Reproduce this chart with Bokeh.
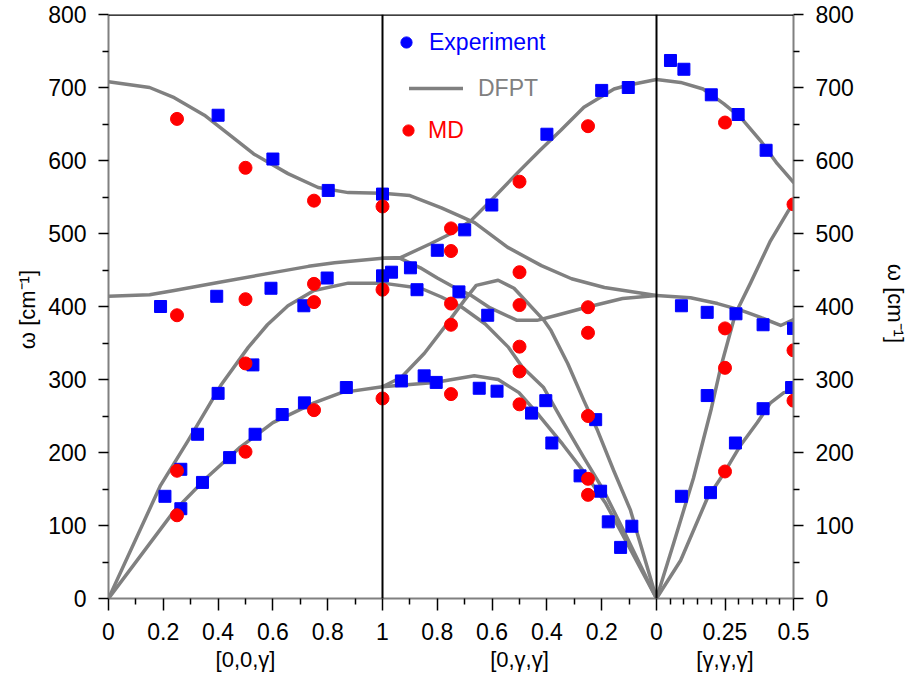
from bokeh.plotting import figure
from bokeh.models import Range1d, LinearAxis, FixedTicker, Span, Legend, LegendItem
from bokeh.embed import file_html
from bokeh.resources import INLINE

# ---------------- data ----------------
# Segment 1: [0,0,γ]  (Γ -> X), γ increasing 0 -> 1
d1_lo_g = [0, 0.15, 0.24, 0.35, 0.435, 0.53, 0.655, 0.765, 0.875, 1.0]
d1_lo_w = [708, 700, 686, 662, 637, 609, 582, 563, 556, 555]
d1_to_g = [0, 0.15, 0.24, 0.4, 0.58, 0.73, 0.825, 1.0]
d1_to_w = [414, 416, 422, 433, 445, 455, 460, 466]
d1_la_g = [0, 0.19, 0.29, 0.41, 0.51, 0.58, 0.655, 0.75, 0.875, 1.0]
d1_la_w = [0, 155, 216, 292, 344, 375, 401, 422, 432, 432]
d1_ta_g = [0, 0.24, 0.36, 0.48, 0.6, 0.75, 0.85, 1.0]
d1_ta_w = [0, 120, 166, 207, 241, 268, 282, 290]

# Segment 2: [0,γ,γ]  (X -> Γ), γ decreasing 1 -> 0
d2_a_g = [1.0, 0.9, 0.785, 0.713, 0.664, 0.543, 0.42, 0.31, 0.19, 0.0]
d2_a_w = [555, 552, 535, 523, 515, 481, 456, 438, 426, 415]
d2_lo_g = [1.0, 0.934, 0.825, 0.75, 0.676, 0.605, 0.51, 0.425, 0.35, 0.265, 0.155, 0.105, 0.0]
d2_lo_w = [466, 467, 486, 500, 518, 545, 582, 614, 641, 673, 698, 703, 711]
d2_dip_g = [1.0, 0.935, 0.862, 0.80, 0.727, 0.68, 0.607, 0.509, 0.436, 0.364, 0.255, 0.124, 0.0]
d2_dip_w = [466, 466, 453, 439, 424, 416, 398, 381, 381, 388, 399, 411, 415]
d2_la_g = [1.0, 0.86, 0.785, 0.71, 0.625, 0.54, 0.49, 0.412, 0.338, 0.265, 0.193, 0.12, 0.0]
d2_la_w = [432, 425, 413, 399, 376, 344, 317, 289, 240, 193, 148, 93, 0]
d2_hump_g = [1.0, 0.931, 0.847, 0.775, 0.702, 0.658, 0.578, 0.52, 0.411, 0.385, 0.324, 0.265, 0.215, 0.156, 0.095, 0.0]
d2_hump_w = [290, 303, 336, 371, 408, 429, 436, 425, 381, 367, 322, 271, 230, 175, 121, 0]
d2_ta_g = [1.0, 0.81, 0.665, 0.578, 0.502, 0.429, 0.342, 0.258, 0.185, 0.113, 0.0]
d2_ta_w = [290, 296, 305, 300, 282, 251, 211, 170, 130, 80, 0]

# Segment 3: [γ,γ,γ]  (Γ -> L), γ increasing 0 -> 0.5
d3_lo_g = [0, 0.088, 0.17, 0.245, 0.307, 0.38, 0.44, 0.5]
d3_lo_w = [711, 707, 698, 678, 659, 627, 596, 570]
d3_to_g = [0, 0.124, 0.223, 0.307, 0.38, 0.453, 0.5]
d3_to_w = [415, 412, 404, 395, 385, 374, 382]
d3_la_g = [0, 0.062, 0.135, 0.2, 0.234, 0.288, 0.343, 0.416, 0.5]
d3_la_w = [0, 75, 165, 260, 316, 390, 432, 490, 543]
d3_ta_g = [0, 0.088, 0.185, 0.245, 0.307, 0.368, 0.416, 0.465, 0.5]
d3_ta_w = [0, 52, 137, 171, 210, 241, 268, 282, 285]

# Experiment (squares)
exp1_g = [0.4, 0.6, 0.802, 1.0, 0.19, 0.395, 0.593, 0.713, 0.798, 1.0,
          0.527, 0.4, 0.325, 0.264, 0.206, 0.264, 0.343, 0.442, 0.535, 0.634, 0.715, 0.868]
exp1_w = [662, 602, 559, 554, 400, 414, 425, 401, 439, 442,
          320, 281, 225, 177, 140, 123, 159, 193, 225, 252, 268, 289]
exp2_g = [0.967, 0.898, 0.874, 0.80, 0.721, 0.70, 0.601, 0.40, 0.20, 0.103, 0.616,
          0.931, 0.848, 0.804, 0.647, 0.582, 0.404, 0.456, 0.382, 0.222, 0.279, 0.204, 0.176, 0.09, 0.131]
exp2_w = [447, 453, 423, 477, 420, 505, 539, 636, 696, 700, 388,
          298, 305, 296, 288, 284, 271, 254, 213, 245, 168, 147, 105, 99, 70]
exp3_g = [0.051, 0.10, 0.20, 0.298, 0.40, 0.091, 0.185, 0.29, 0.389, 0.50,
          0.091, 0.185, 0.197, 0.288, 0.389, 0.493]
exp3_w = [737, 725, 690, 663, 614, 401, 392, 390, 375, 370,
          140, 278, 145, 213, 260, 289]

# MD (circles)
md1_g = [0.25, 0.5, 0.75, 1.0, 0.25, 0.5, 0.75, 0.75, 1.0, 0.5, 0.25, 0.25, 0.5, 0.75, 1.0]
md1_w = [657, 590, 545, 537, 388, 410, 431, 406, 423, 322, 175, 114, 201, 258, 274]
md2_g = [0.75, 0.75, 0.75, 0.75, 0.75, 0.5, 0.5, 0.5, 0.5, 0.5, 0.5, 0.25, 0.25, 0.25, 0.25, 0.25, 0.25]
md2_w = [507, 476, 404, 375, 280, 571, 447, 402, 345, 311, 266, 647, 399, 364, 250, 164, 142]
md3_g = [0.25, 0.5, 0.25, 0.25, 0.5, 0.5, 0.25]
md3_w = [652, 540, 370, 316, 340, 271, 174]

# Tick labels
seg1_ticks = [0.0, 0.2, 0.4, 0.6, 0.8, 1.0]
seg2_ticks = [0.8, 0.6, 0.4, 0.2, 0.0]
seg3_ticks = [0.25, 0.5]
seg1_minor = [0.1, 0.3, 0.5, 0.7, 0.9]
seg2_minor = [0.9, 0.7, 0.5, 0.3, 0.1]
seg3_minor = [0.05, 0.1, 0.15, 0.2, 0.3, 0.35, 0.4, 0.45]
tick_labels = ["0", "0.2", "0.4", "0.6", "0.8", "1", "0.8", "0.6", "0.4", "0.2", "0", "0.25", "0.5"]
seg_names = ["[0,0,γ]", "[0,γ,γ]", "[γ,γ,γ]"]
seg_centers = [0.5, 0.5, 0.25]
y_ticks = [0, 100, 200, 300, 400, 500, 600, 700, 800]
y_minor = [50, 150, 250, 350, 450, 550, 650, 750]


# path coordinate along Γ-X-Γ-L
def s1(g):
    return [float(v) for v in g]


def s2(g):
    return [2.0 - v for v in g]


def s3(g):
    return [2.0 + v for v in g]


FONT = "Liberation Sans"
GRAY = "#808080"
NAN = float("nan")

p = figure(width=917, height=686, output_backend="svg", toolbar_location=None,
           x_range=Range1d(0, 2.5), y_range=Range1d(0, 800),
           min_border_left=108, min_border_right=124, min_border_top=14, min_border_bottom=88)
p.xgrid.visible = False
p.ygrid.visible = False
p.outline_line_color = None
p.background_fill_color = "white"
p.border_fill_color = "white"

# DFPT curves
branches = [
    (s1(d1_lo_g), d1_lo_w), (s1(d1_to_g), d1_to_w), (s1(d1_la_g), d1_la_w), (s1(d1_ta_g), d1_ta_w),
    (s2(d2_a_g), d2_a_w), (s2(d2_lo_g), d2_lo_w), (s2(d2_dip_g), d2_dip_w), (s2(d2_la_g), d2_la_w),
    (s2(d2_hump_g), d2_hump_w), (s2(d2_ta_g), d2_ta_w),
    (s3(d3_lo_g), d3_lo_w), (s3(d3_to_g), d3_to_w), (s3(d3_la_g), d3_la_w), (s3(d3_ta_g), d3_ta_w),
]
line_renderers = []
for xs, ys in branches:
    r = p.line(xs, ys, line_color=GRAY, line_width=3.5, line_join="round", line_cap="round")
    line_renderers.append(r)

# separators and top border
for loc in [s1([1.0])[0], s2([0.0])[0]]:
    p.add_layout(Span(location=loc, dimension="height", line_color="black", line_width=2))
p.add_layout(Span(location=y_ticks[-1], dimension="width", line_color="black", line_width=2.5))

# markers
exp_x = s1(exp1_g) + s2(exp2_g) + s3(exp3_g)
exp_y = exp1_w + exp2_w + exp3_w
p.scatter(exp_x, exp_y, marker="square", size=12, fill_color="#0000FF", line_color="#0000FF")
md_x = s1(md1_g) + s2(md2_g) + s3(md3_g)
md_y = md1_w + md2_w + md3_w
p.scatter(md_x, md_y, marker="circle", size=13, fill_color="#FF0000", line_color="#FF0000")

# legend-only glyphs (a single undrawn NaN point each)
leg_exp = p.scatter(x=[NAN], y=[NAN], marker="circle", size=11, fill_color="#0000FF", line_color="#0000FF")
leg_md = p.scatter(x=[NAN], y=[NAN], marker="circle", size=11, fill_color="#FF0000", line_color="#FF0000")


def make_legend(label, rend, color, loc, gw, standoff):
    lg = Legend(items=[LegendItem(label=label, renderers=[rend], index=0)], location=loc,
                orientation="vertical", padding=0, margin=0, spacing=0,
                glyph_width=gw, glyph_height=28, label_height=28, label_standoff=standoff,
                label_text_color=color, label_text_font=FONT, label_text_font_size="23px",
                border_line_color=None, background_fill_alpha=0)
    p.add_layout(lg, "center")


make_legend("Experiment", leg_exp, "#0000FF", (284, 542), 28, 9)
make_legend("DFPT", line_renderers[0], GRAY, (301, 496), 54, 15)
make_legend("MD", leg_md, "#FF0000", (286, 454), 28, 6)

# x axis
major_pos = s1(seg1_ticks) + s2(seg2_ticks) + s3(seg3_ticks)
minor_pos = s1(seg1_minor) + s2(seg2_minor) + s3(seg3_minor)
xa = p.below[0]
xa.ticker = FixedTicker(ticks=major_pos, minor_ticks=minor_pos)
xa.major_label_overrides = {pos: lab for pos, lab in zip(major_pos, tick_labels)}
xa.axis_line_color = GRAY
xa.axis_line_width = 2
xa.major_tick_line_color = "black"
xa.minor_tick_line_color = "black"
xa.major_tick_line_width = 1.5
xa.minor_tick_line_width = 1.5
xa.major_tick_out = 12
xa.major_tick_in = 0
xa.minor_tick_out = 6
xa.minor_tick_in = 0
xa.major_label_standoff = 12
xa.major_label_text_font = FONT
xa.major_label_text_font_size = "23px"
xa.major_label_text_color = "black"

name_pos = [s1([seg_centers[0]])[0], s2([seg_centers[1]])[0], s3([seg_centers[2]])[0]]
xa2 = LinearAxis(ticker=FixedTicker(ticks=name_pos, minor_ticks=[]),
                 major_label_overrides={pos: lab for pos, lab in zip(name_pos, seg_names)})
xa2.axis_line_color = None
xa2.major_tick_line_color = None
xa2.minor_tick_line_color = None
xa2.major_tick_out = 0
xa2.minor_tick_out = 0
xa2.major_label_standoff = 4
xa2.major_label_text_font = FONT
xa2.major_label_text_font_size = "22px"
xa2.major_label_text_color = "black"
p.add_layout(xa2, "below")

# y axes
ya = p.left[0]
ya_r = LinearAxis()
p.add_layout(ya_r, "right")
for ax, standoff in [(ya, 5), (ya_r, 26)]:
    ax.ticker = FixedTicker(ticks=y_ticks, minor_ticks=y_minor)
    ax.axis_line_color = GRAY
    ax.axis_line_width = 2
    ax.major_tick_line_color = "black"
    ax.minor_tick_line_color = "black"
    ax.major_tick_line_width = 1.5
    ax.minor_tick_line_width = 1.5
    ax.major_tick_out = 10
    ax.major_tick_in = 0
    ax.minor_tick_out = 6
    ax.minor_tick_in = 0
    ax.major_label_standoff = 12
    ax.major_label_text_font = FONT
    ax.major_label_text_font_size = "23px"
    ax.major_label_text_color = "black"
    ax.axis_label = "ω  [cm⁻¹]"
    ax.axis_label_text_font = FONT
    ax.axis_label_text_font_size = "22px"
    ax.axis_label_text_font_style = "normal"
    ax.axis_label_text_color = "black"
    ax.axis_label_standoff = standoff

open("out.html", "w").write(file_html(p, INLINE))
